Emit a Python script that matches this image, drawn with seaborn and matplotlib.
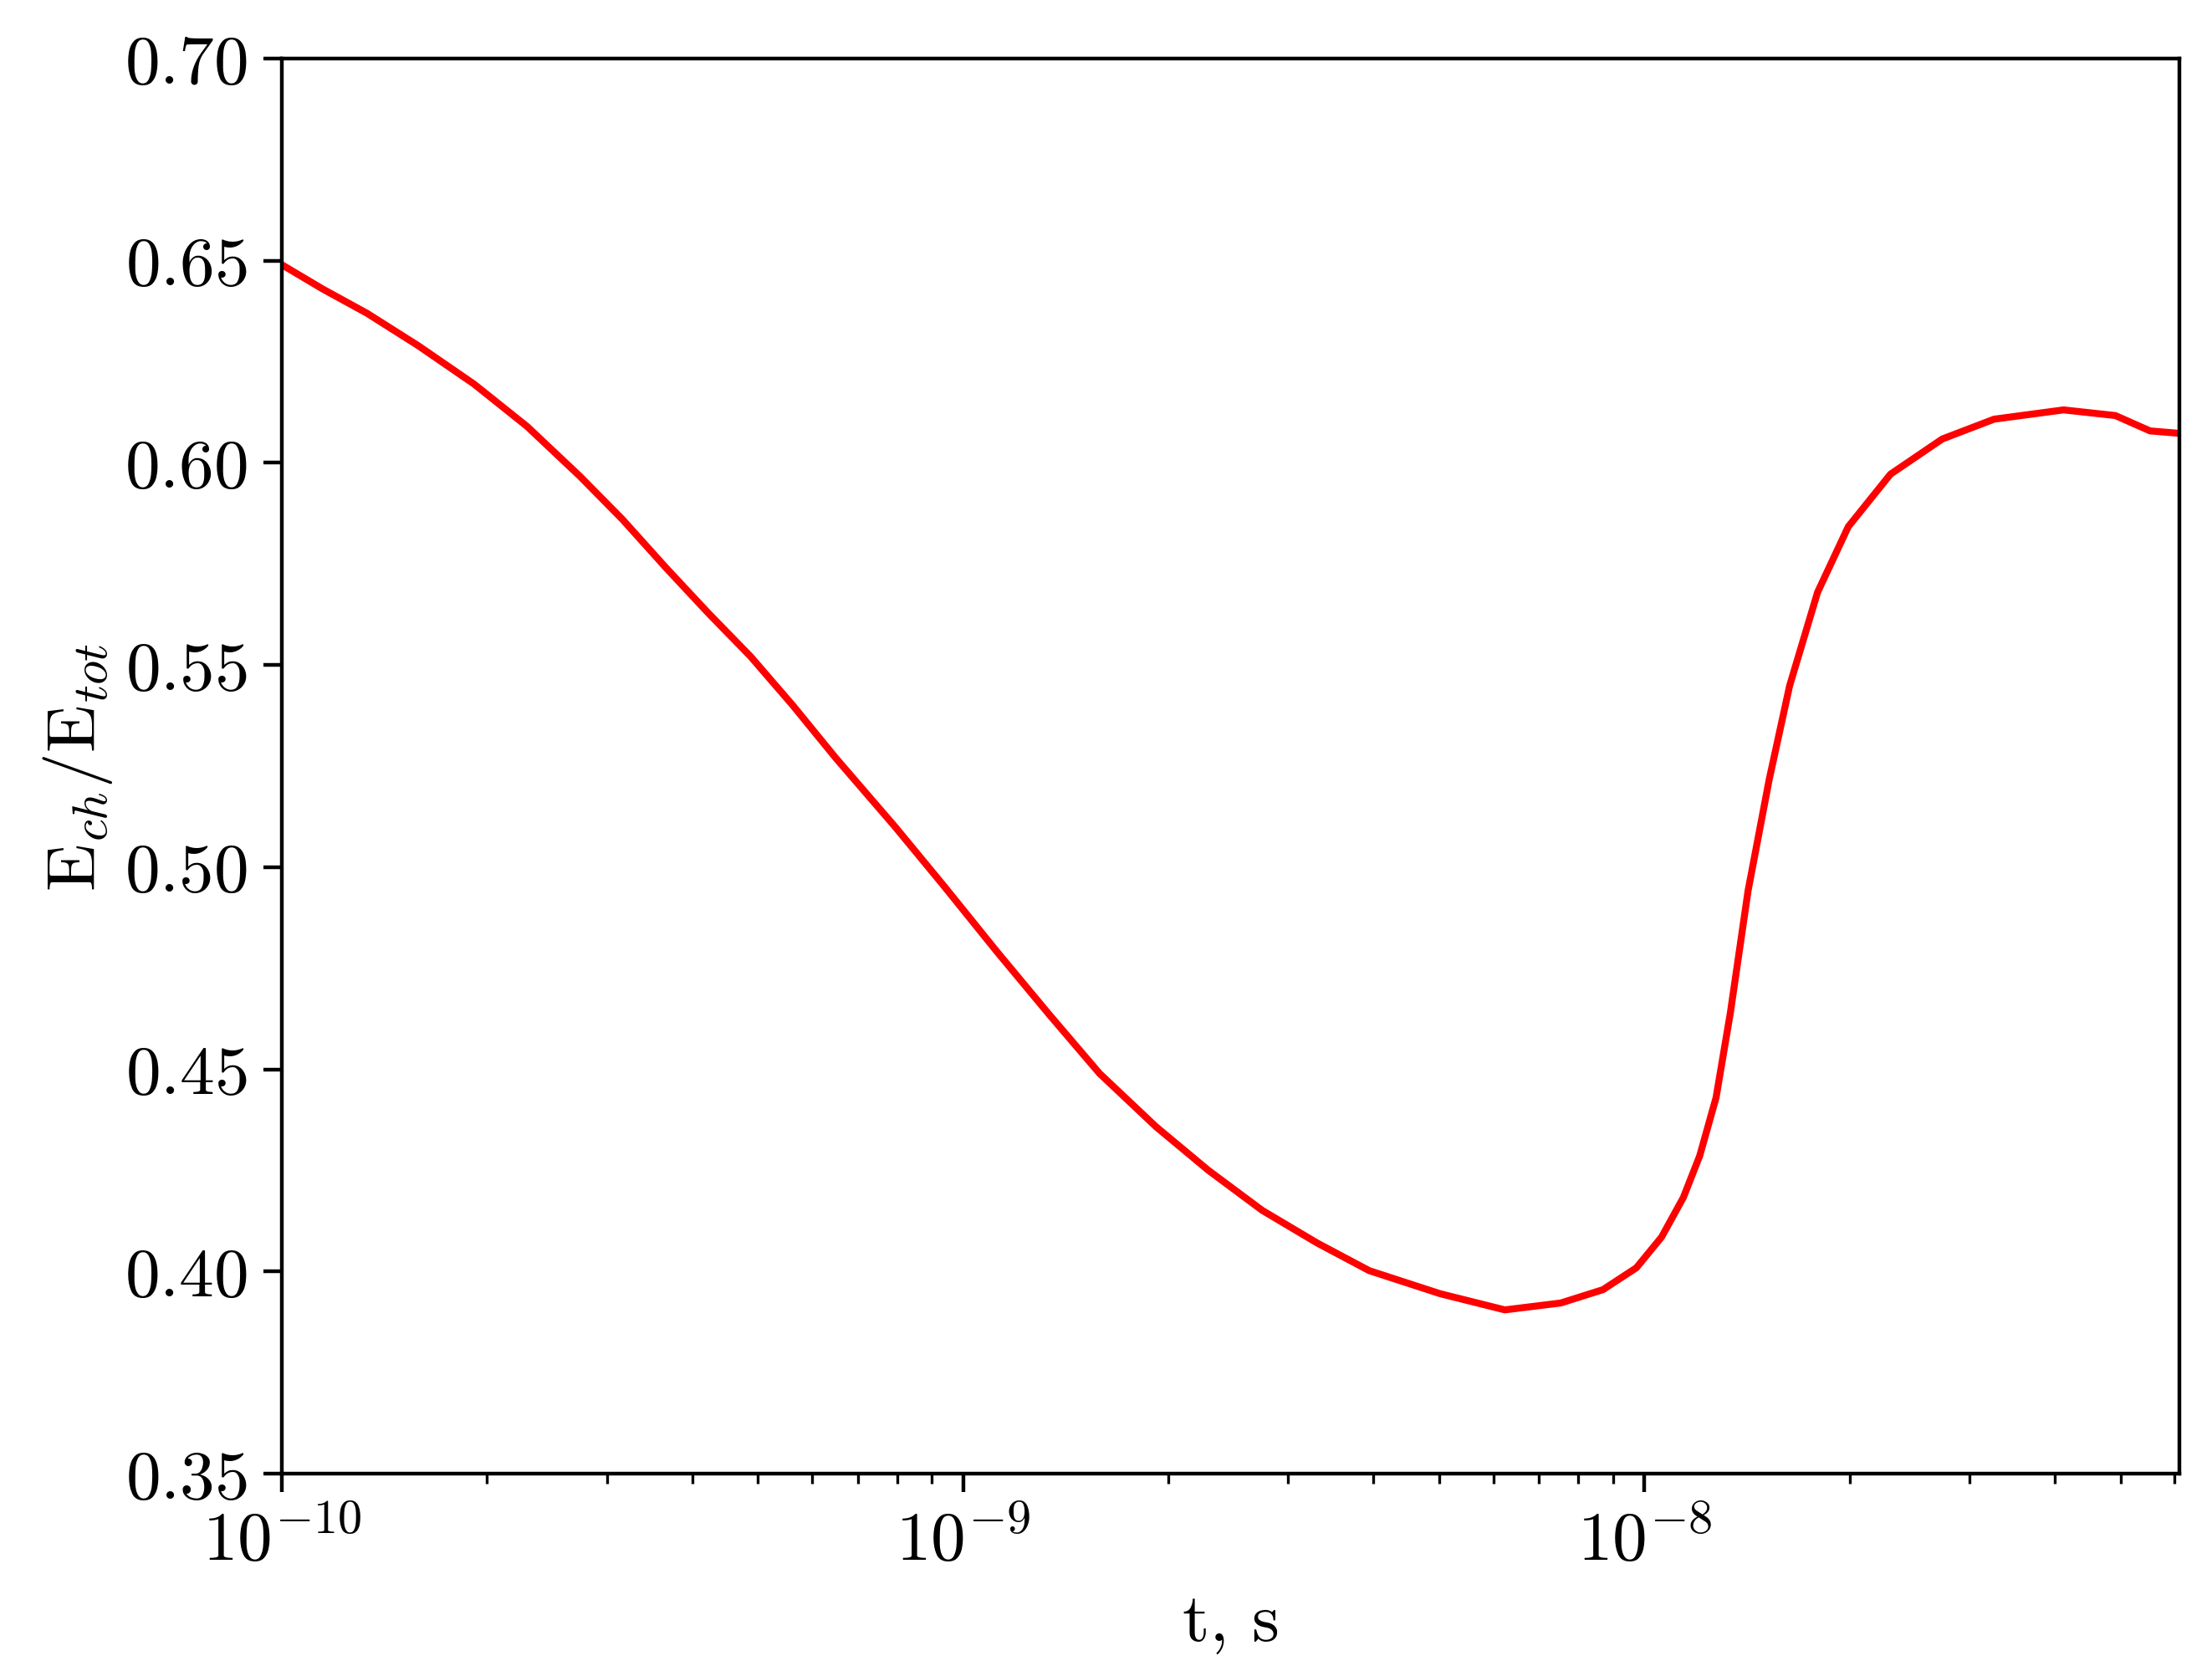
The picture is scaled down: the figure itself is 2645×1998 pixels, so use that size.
import matplotlib
matplotlib.use("Agg")
import matplotlib.pyplot as plt
import seaborn as sns
import numpy as np

# Data, time as log10 of seconds
log_t = [-10.00, -9.94, -9.875, -9.80, -9.718, -9.64, -9.562, -9.50, -9.437, -9.375,
         -9.312, -9.25, -9.187, -9.10, -9.029, -8.95, -8.874, -8.80, -8.717, -8.64,
         -8.561, -8.48, -8.404, -8.30, -8.205, -8.123, -8.061, -8.012, -7.975, -7.943,
         -7.919, -7.895, -7.874, -7.848, -7.817, -7.787, -7.746, -7.701, -7.639, -7.563,
         -7.487, -7.385, -7.309, -7.258, -7.215]
e_ratio = [0.649, 0.643, 0.637, 0.629, 0.6195, 0.609, 0.5966, 0.586, 0.5742, 0.563,
           0.5521, 0.540, 0.527, 0.510, 0.4955, 0.479, 0.4636, 0.449, 0.4358, 0.425,
           0.4151, 0.407, 0.4002, 0.3945, 0.3905, 0.3922, 0.3955, 0.4009, 0.4085, 0.4183,
           0.4286, 0.443, 0.464, 0.4942, 0.5217, 0.5449, 0.5680, 0.5842, 0.5972, 0.6059,
           0.6108, 0.6131, 0.6117, 0.6079, 0.6073]
t = 10.0 ** np.array(log_t)

sns.set_style("ticks")
plt.rcParams["font.family"] = ["cmr10", "DejaVu Serif"]
plt.rcParams["mathtext.fontset"] = "cm"
plt.rcParams["axes.formatter.use_mathtext"] = True
plt.rcParams["text.color"] = "black"
plt.rcParams["axes.labelcolor"] = "black"
plt.rcParams["xtick.color"] = "black"
plt.rcParams["ytick.color"] = "black"

fig = plt.figure(figsize=(2645 / 400, 1999 / 400), dpi=400)
ax = fig.add_axes([337 / 2645, 1 - 1763 / 1999, (2606 - 337) / 2645, (1763 - 71) / 1999])

sns.lineplot(x=t, y=e_ratio, color="red", linewidth=1.5, ax=ax)

ax.set_xscale("log")
ax.set_xlim(1e-10, 10 ** -7.215)
ax.set_ylim(0.35, 0.70)
ax.set_yticks(np.arange(0.35, 0.701, 0.05))
ax.set_xlabel("t, s", fontsize=15)
ax.set_ylabel(r"$\mathrm{E}_{ch}/\mathrm{E}_{tot}$", fontsize=15, labelpad=2)
ax.tick_params(axis="both", which="major", labelsize=15, length=4, width=0.8)
ax.tick_params(axis="x", which="minor", length=2.2, width=0.6)
for s in ax.spines.values():
    s.set_color("black")
    s.set_linewidth(0.8)

fig.savefig("out.png", dpi=400)
